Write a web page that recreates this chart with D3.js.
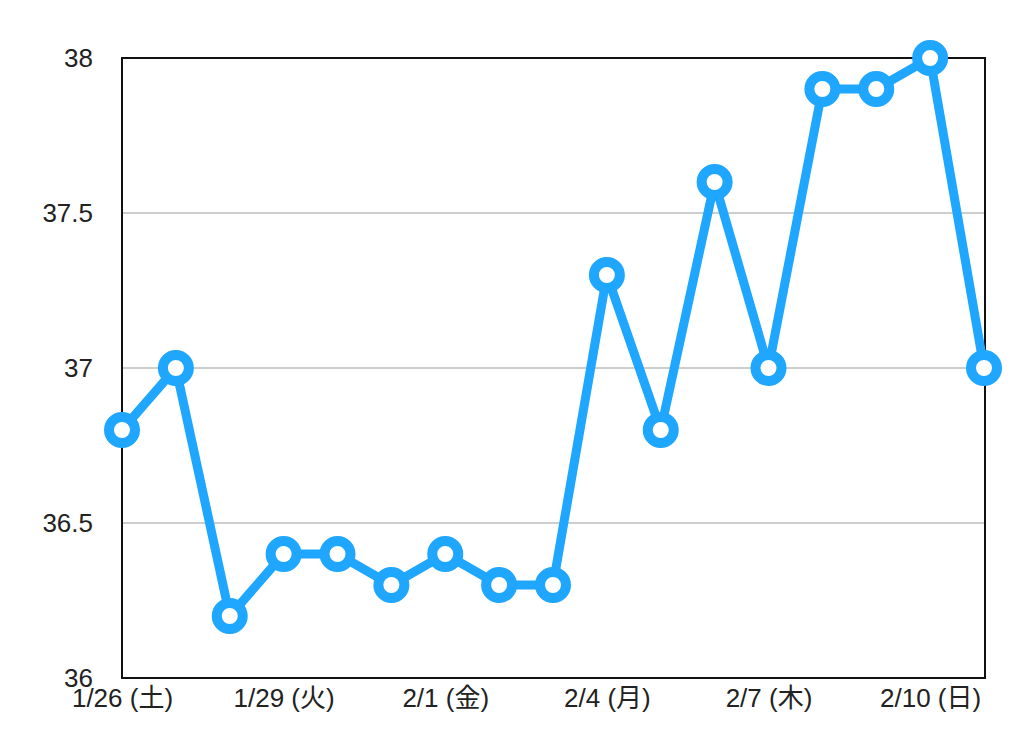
<!DOCTYPE html>
<html>
<head>
<meta charset="utf-8">
<script src="https://d3js.org/d3.v7.min.js"></script>
<style>
  body { margin: 0; background: #fff; }
  svg text { font-family: "Liberation Sans", "Noto Sans CJK JP", sans-serif; fill: #222; font-size: 26px; }
</style>
</head>
<body>
<svg id="chart" width="1024" height="740"></svg>
<script>
// data
var dates = ["1/26 (土)", "1/27 (日)", "1/28 (月)", "1/29 (火)", "1/30 (水)", "1/31 (木)",
             "2/1 (金)", "2/2 (土)", "2/3 (日)", "2/4 (月)", "2/5 (火)", "2/6 (水)",
             "2/7 (木)", "2/8 (金)", "2/9 (土)", "2/10 (日)", "2/11 (月)"];
var temps = [36.8, 37.0, 36.2, 36.4, 36.4, 36.3, 36.4, 36.3, 36.3, 37.3, 36.8, 37.6,
             37.0, 37.9, 37.9, 38.0, 37.0];
var yTicks = [36, 36.5, 37, 37.5, 38];
var xTickEvery = 3;

var svg = d3.select("#chart");
var plotLeft = 122, plotRight = 985, plotTop = 58, plotBottom = 678;

var x = d3.scalePoint()
    .domain(dates)
    .range([plotLeft, plotRight - 1]);

var y = d3.scaleLinear()
    .domain([36, 38])
    .range([plotBottom, plotTop]);

// gridlines
svg.append("g")
    .selectAll("line")
    .data(yTicks.filter(function (d) { return d > 36 && d < 38; }))
    .enter()
    .append("line")
    .attr("x1", plotLeft)
    .attr("x2", plotRight)
    .attr("y1", function (d) { return y(d); })
    .attr("y2", function (d) { return y(d); })
    .style("stroke", "#bdbdbd")
    .style("stroke-width", "1.5px");

// frame
svg.append("rect")
    .attr("x", plotLeft)
    .attr("y", plotTop)
    .attr("width", plotRight - plotLeft)
    .attr("height", plotBottom - plotTop)
    .style("fill", "none")
    .style("stroke", "#111")
    .style("stroke-width", "2px");

// y labels
var yAxis = d3.axisLeft(y)
    .tickValues(yTicks)
    .tickSize(0)
    .tickPadding(29)
    .tickFormat(function (d) { return d; });

svg.append("g")
    .attr("transform", "translate(" + plotLeft + ",0)")
    .call(yAxis)
    .call(function (g) { g.select(".domain").remove(); })
    .selectAll("text")
    .style("font-size", "26px")
    .style("fill", "#222");

// x labels
var xAxis = d3.axisBottom(x)
    .tickValues(dates.filter(function (d, i) { return i % xTickEvery === 0; }))
    .tickSize(0)
    .tickPadding(11);

svg.append("g")
    .attr("transform", "translate(0," + plotBottom + ")")
    .call(xAxis)
    .call(function (g) { g.select(".domain").remove(); })
    .selectAll("text")
    .style("font-size", "26px")
    .style("fill", "#222");

// line
var line = d3.line()
    .x(function (d, i) { return x(dates[i]); })
    .y(function (d) { return y(d); });

svg.append("path")
    .datum(temps)
    .attr("d", line)
    .style("fill", "none")
    .style("stroke", "#1fa6ff")
    .style("stroke-width", "9px")
    .style("stroke-linejoin", "miter");

// points
svg.append("g")
    .selectAll("circle")
    .data(temps)
    .enter()
    .append("circle")
    .attr("cx", function (d, i) { return x(dates[i]); })
    .attr("cy", function (d) { return y(d); })
    .attr("r", 13)
    .style("fill", "#fff")
    .style("stroke", "#1fa6ff")
    .style("stroke-width", "10px");
</script>
</body>
</html>
